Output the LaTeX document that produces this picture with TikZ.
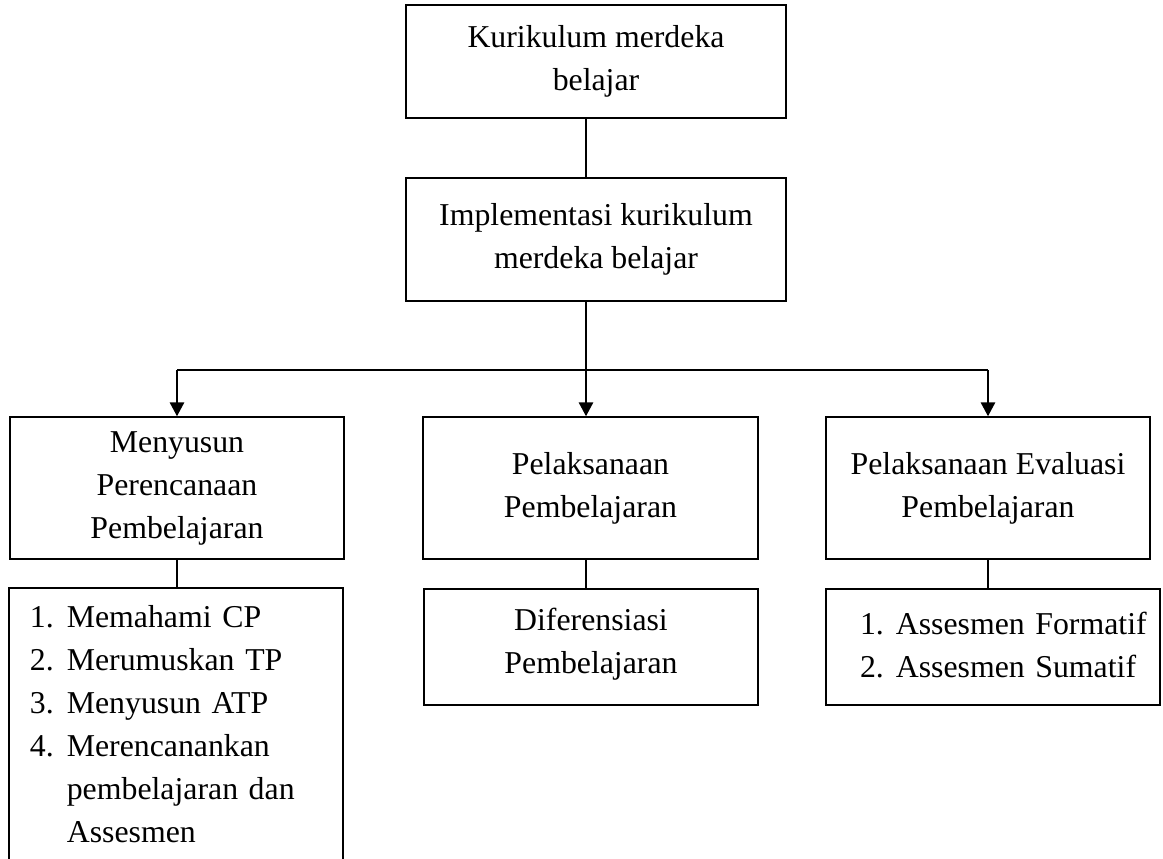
\documentclass[tikz,border=0pt]{standalone}
\usepackage{fontspec}
\setmainfont{Liberation Serif}
\usetikzlibrary{arrows.meta}
\begin{document}
\begin{tikzpicture}[x=1pt,y=-1pt,
  every node/.style={font=\fontsize{31.8}{43}\selectfont},
  box/.style={draw=black, line width=1.3pt, rectangle, inner sep=0pt, align=center},
  listbox/.style={draw=black, line width=1.3pt, rectangle, inner xsep=0pt, inner ysep=0pt, align=left},
  thin/.style={line width=1.3pt},
  thickline/.style={line width=2.8pt},
  arr/.style={line width=2.8pt, -{Triangle[length=14pt,width=14pt]}}
]
\clip (0,0) rectangle (1163,859);
\fill[white] (0,0) rectangle (1163,859);

% top boxes
\node[box, minimum width=380pt, minimum height=113pt] (k) at (596,61.5) {Kurikulum merdeka\\belajar};
\node[box, minimum width=380pt, minimum height=123pt] (impl) at (596,239.5) {Implementasi kurikulum\\merdeka belajar};

% middle row
\node[box, minimum width=334pt, minimum height=142pt] (m1) at (177,488) {Menyusun\\Perencanaan\\Pembelajaran};
\node[box, minimum width=335pt, minimum height=142pt] (m2) at (590.5,488) {Pelaksanaan\\Pembelajaran};
\node[box, minimum width=324pt, minimum height=142pt] (m3) at (988,488) {Pelaksanaan Evaluasi\\Pembelajaran};

% lists
\node[listbox, text width=334pt, minimum height=276pt] (l1) at (176,726)
  {\hspace*{21pt}\begin{tabular}{@{}r@{\hspace{13pt}}l@{}}
   1. & Memahami CP\\
   2. & Merumuskan TP\\
   3. & Menyusun ATP\\
   4. & Merencanankan\\
      & pembelajaran dan\\
      & Assesmen
   \end{tabular}};
\node[box, minimum width=334pt, minimum height=116pt] (l2) at (591,647) {Diferensiasi\\Pembelajaran\\[-31pt]\rule{0pt}{0pt}};
\node[listbox, text width=334pt, minimum height=116pt] (l3) at (993,647)
  {\hspace*{34pt}\begin{tabular}{@{}r@{\hspace{12pt}}l@{}}
   1. & Assesmen Formatif\\
   2. & Assesmen Sumatif
   \end{tabular}};

% connectors
\coordinate (cx) at (586,0);
\coordinate (hub) at (586,370);
\draw[thin] (k.south -| cx) -- (impl.north -| cx);
\draw[thickline] (impl.south -| cx) -- (hub);
\draw[thickline] (m1.north |- hub) -- (m3.north |- hub);
\draw[arr] (m1.north |- hub) -- (m1.north);
\draw[arr] (hub) -- (m2.north -| cx);
\draw[arr] (m3.north |- hub) -- (m3.north);

\draw[thin] (m1.south) -- (m1.south |- l1.north);
\draw[thin] (m2.south -| cx) -- (l2.north -| cx);
\draw[thin] (m3.south) -- (m3.south |- l3.north);
\end{tikzpicture}
\end{document}
